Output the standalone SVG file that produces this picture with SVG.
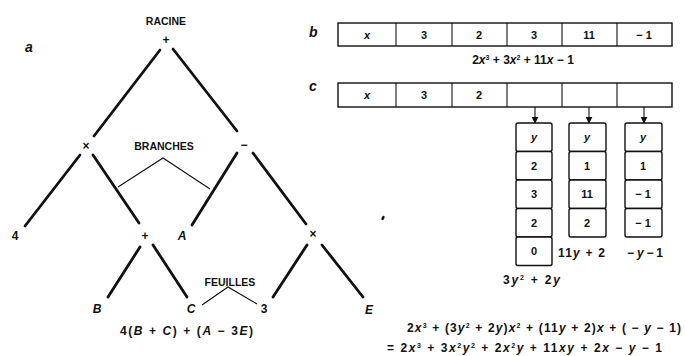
<svg xmlns="http://www.w3.org/2000/svg" width="685" height="356" viewBox="0 0 685 356">
<defs>
<style>
text{font-family:"Liberation Sans","DejaVu Sans",sans-serif;fill:#111;}
.lbl{font-size:10.5px;font-weight:bold;text-anchor:middle;}
.nd{font-size:12px;font-weight:bold;text-anchor:middle;}
.it{font-style:italic;}
.ltr{font-size:14px;font-weight:bold;font-style:italic;}
.cell{font-size:11px;font-weight:bold;text-anchor:middle;}
.fm{font-size:12px;font-weight:bold;}
.edge{stroke:#111;stroke-width:2.8;stroke-linecap:round;fill:none;}
.thin{stroke:#111;stroke-width:1.1;fill:none;}
.box{stroke:#111;stroke-width:1.4;fill:#fff;}
</style>
<marker id="ah" viewBox="0 0 10 10" refX="9" refY="5" markerWidth="7" markerHeight="7" orient="auto" markerUnits="userSpaceOnUse">
<path d="M0,0 L10,5 L0,10 z" fill="#111"/>
</marker>
</defs>

<text class="ltr" x="25" y="52">a</text>
<text class="ltr" x="309" y="37">b</text>
<text class="ltr" x="309" y="91">c</text>

<g id="connectors">
<line class="edge" x1="160" y1="50" x2="94" y2="136"/>
<line class="edge" x1="173" y1="49" x2="237" y2="131"/>
<line class="edge" x1="80" y1="155" x2="25" y2="226"/>
<line class="edge" x1="93" y1="155" x2="139" y2="223"/>
<line class="edge" x1="237" y1="153" x2="192" y2="225"/>
<line class="edge" x1="253" y1="153" x2="306" y2="224"/>
<line class="edge" x1="140" y1="247" x2="108" y2="297"/>
<line class="edge" x1="153" y1="245" x2="187" y2="297"/>
<line class="edge" x1="307" y1="245" x2="273" y2="297"/>
<line class="edge" x1="322" y1="245" x2="363" y2="297"/>
<polyline class="thin" points="118,187 163,158 210,189"/>
<polyline class="thin" points="202,305 228,287 257,304"/>
<line class="thin" x1="535" y1="96" x2="535" y2="123" marker-end="url(#ah)"/>
<line class="thin" x1="589" y1="96" x2="589" y2="123" marker-end="url(#ah)"/>
<line class="thin" x1="644" y1="96" x2="644" y2="123" marker-end="url(#ah)"/>
</g>

<g id="racine"><text class="lbl" x="166" y="25">RACINE</text><text class="nd" x="166" y="44">+</text></g>
<g id="branches"><text class="lbl" x="164" y="150">BRANCHES</text></g>
<g id="feuilles"><text class="lbl" x="230" y="286">FEUILLES</text></g>
<g id="times1"><text class="nd" x="86" y="150">×</text></g>
<g id="minus1"><text class="nd" x="244" y="149">−</text></g>
<g id="leaf4"><text class="nd" x="15" y="240">4</text></g>
<g id="plus2"><text class="nd" x="145" y="240">+</text></g>
<g id="leafA"><text class="nd it" x="182" y="240">A</text></g>
<g id="times2"><text class="nd" x="313" y="238">×</text></g>
<g id="leafB"><text class="nd it" x="97" y="313">B</text></g>
<g id="leafC"><text class="nd it" x="191" y="313">C</text></g>
<g id="leaf3"><text class="nd" x="264" y="313">3</text></g>
<g id="leafE"><text class="nd it" x="369" y="314">E</text></g>
<text class="fm" x="120" y="335" textLength="133" lengthAdjust="spacing">4(<tspan class="it">B</tspan> + <tspan class="it">C</tspan>) + (<tspan class="it">A</tspan> − 3<tspan class="it">E</tspan>)</text>

<g id="arrayB">
<rect class="box" x="338" y="23" width="334" height="23"/>
<line class="thin" x1="396" y1="23" x2="396" y2="46"/>
<line class="thin" x1="452" y1="23" x2="452" y2="46"/>
<line class="thin" x1="507" y1="23" x2="507" y2="46"/>
<line class="thin" x1="562" y1="23" x2="562" y2="46"/>
<line class="thin" x1="617" y1="23" x2="617" y2="46"/>
<text class="cell it" x="367" y="39" font-size="9">x</text>
<text class="cell" x="424" y="39">3</text>
<text class="cell" x="479" y="39">2</text>
<text class="cell" x="534" y="39">3</text>
<text class="cell" x="589" y="39" font-size="9">11</text>
<text class="cell" x="644" y="39" font-size="9">− 1</text>
</g>
<text class="fm" x="523" y="64" text-anchor="middle" font-size="11">2<tspan class="it">x</tspan><tspan dy="-4" font-size="7">3</tspan><tspan dy="4"> + 3</tspan><tspan class="it">x</tspan><tspan dy="-4" font-size="7">2</tspan><tspan dy="4"> + 11</tspan><tspan class="it">x</tspan> − 1</text>

<g id="arrayC">
<rect class="box" x="338" y="83" width="334" height="24"/>
<line class="thin" x1="396" y1="83" x2="396" y2="107"/>
<line class="thin" x1="452" y1="83" x2="452" y2="107"/>
<line class="thin" x1="507" y1="83" x2="507" y2="107"/>
<line class="thin" x1="562" y1="83" x2="562" y2="107"/>
<line class="thin" x1="617" y1="83" x2="617" y2="107"/>
<text class="cell it" x="367" y="99" font-size="9">x</text>
<text class="cell" x="424" y="99">3</text>
<text class="cell" x="479" y="99">2</text>
</g>

<g id="col1">
<rect class="box" x="516" y="123" width="36" height="28.5" rx="2"/>
<rect class="box" x="516" y="151.5" width="36" height="28.5" rx="2"/>
<rect class="box" x="516" y="180" width="36" height="28.5" rx="2"/>
<rect class="box" x="516" y="208.5" width="36" height="28.5" rx="2"/>
<rect class="box" x="516" y="237" width="36" height="28.5" rx="2"/>
<text class="cell it" x="534" y="141">y</text>
<text class="cell" x="534" y="170">2</text>
<text class="cell" x="534" y="198">3</text>
<text class="cell" x="534" y="227">2</text>
<text class="cell" x="534" y="255">0</text>
</g>
<g id="col2">
<rect class="box" x="569" y="123" width="37" height="28.5" rx="2"/>
<rect class="box" x="569" y="151.5" width="37" height="28.5" rx="2"/>
<rect class="box" x="569" y="180" width="37" height="28.5" rx="2"/>
<rect class="box" x="569" y="208.5" width="37" height="28.5" rx="2"/>
<text class="cell it" x="587" y="141">y</text>
<text class="cell" x="587" y="170">1</text>
<text class="cell" x="587" y="198">11</text>
<text class="cell" x="587" y="227">2</text>
</g>
<g id="col3">
<rect class="box" x="625" y="123" width="37" height="28.5" rx="2"/>
<rect class="box" x="625" y="151.5" width="37" height="28.5" rx="2"/>
<rect class="box" x="625" y="180" width="37" height="28.5" rx="2"/>
<rect class="box" x="625" y="208.5" width="37" height="28.5" rx="2"/>
<text class="cell it" x="643" y="141">y</text>
<text class="cell" x="643" y="170">1</text>
<text class="cell" x="643" y="198">− 1</text>
<text class="cell" x="643" y="227">− 1</text>
</g>
<text class="fm" x="503" y="284" textLength="57" lengthAdjust="spacing">3<tspan class="it">y</tspan><tspan dy="-4" font-size="7">2</tspan><tspan dy="4"> + 2</tspan><tspan class="it">y</tspan></text>
<text class="fm" x="558" y="257" textLength="47" lengthAdjust="spacing">11<tspan class="it">y</tspan> + 2</text>
<text class="fm" x="627" y="257" textLength="36" lengthAdjust="spacing">− <tspan class="it">y</tspan> − 1</text>

<ellipse cx="383" cy="218" rx="1.4" ry="2.4" transform="rotate(25 383 218)" fill="#111"/>

<text class="fm" x="407" y="332" textLength="274" lengthAdjust="spacing">2<tspan class="it">x</tspan><tspan dy="-4" font-size="7">3</tspan><tspan dy="4"> + (3</tspan><tspan class="it">y</tspan><tspan dy="-4" font-size="7">2</tspan><tspan dy="4"> + 2</tspan><tspan class="it">y</tspan>)<tspan class="it">x</tspan><tspan dy="-4" font-size="7">2</tspan><tspan dy="4"> + (11</tspan><tspan class="it">y</tspan> + 2)<tspan class="it">x</tspan> + ( − <tspan class="it">y</tspan> − 1)</text>
<text class="fm" x="387" y="352" textLength="275" lengthAdjust="spacing">= 2<tspan class="it">x</tspan><tspan dy="-4" font-size="7">3</tspan><tspan dy="4"> + 3</tspan><tspan class="it">x</tspan><tspan dy="-4" font-size="7">2</tspan><tspan dy="4" class="it">y</tspan><tspan dy="-4" font-size="7">2</tspan><tspan dy="4"> + 2</tspan><tspan class="it">x</tspan><tspan dy="-4" font-size="7">2</tspan><tspan dy="4" class="it">y</tspan> + 11<tspan class="it">xy</tspan> + 2<tspan class="it">x</tspan> − <tspan class="it">y</tspan> − 1</text>
</svg>
